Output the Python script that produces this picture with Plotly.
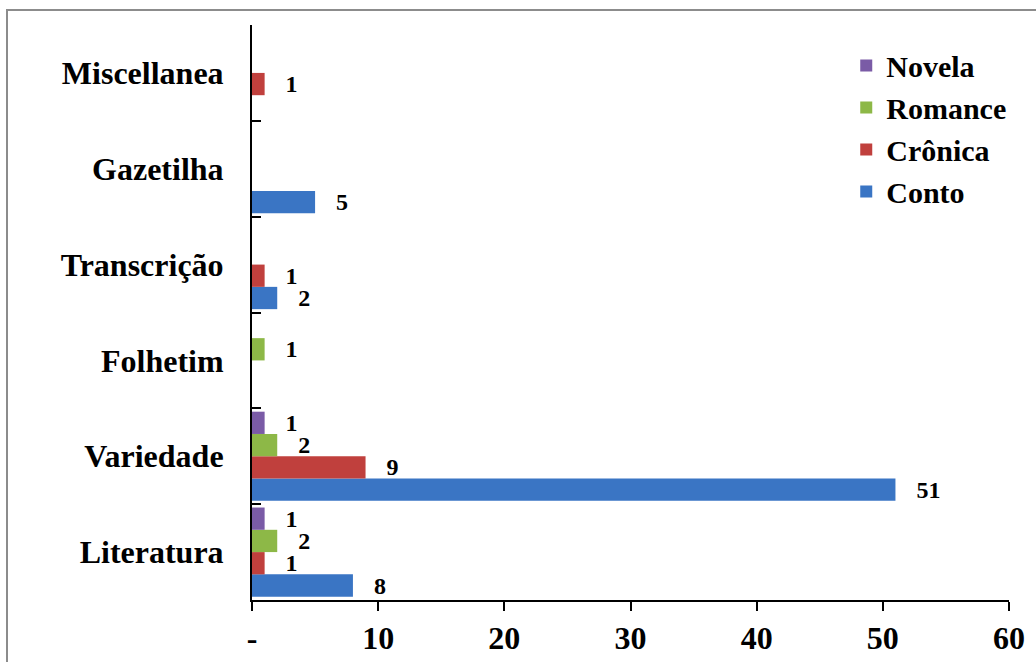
import plotly.graph_objects as go

categories = ["Literatura", "Variedade", "Folhetim", "Transcrição", "Gazetilha", "Miscellanea"]
conto = [8, 51, None, 2, 5, None]
cronica = [1, 9, None, 1, None, 1]
romance = [2, 2, 1, None, None, None]
novela = [1, 1, None, None, None, None]

series = [
    ("Conto", conto, "#3A75C4"),
    ("Crônica", cronica, "#C0403D"),
    ("Romance", romance, "#8DB847"),
    ("Novela", novela, "#7A5BA6"),
]

FONT = "Liberation Serif"

fig = go.Figure()
for i, (name, vals, col) in enumerate(series):
    fig.add_trace(go.Bar(
        y=categories, x=vals, name=name, orientation="h",
        marker=dict(color=col, line=dict(width=0)),
        texttemplate="\u00a0\u00a0\u00a0%{x}",
        textposition="outside",
        constraintext="none",
        cliponaxis=False,
        textfont=dict(family=FONT, size=24, color="black", weight="bold"),
        legendgroup=name,
    ))

fig.update_layout(
    width=1036, height=662,
    margin=dict(l=252, r=27, t=25, b=62, autoexpand=False),
    paper_bgcolor="white", plot_bgcolor="white",
    barmode="group", bargap=0.07, bargroupgap=0,
    font=dict(family=FONT, color="black"),
    showlegend=True,
    legend=dict(
        x=0.785, y=0.975, xanchor="left", yanchor="top",
        traceorder="reversed", tracegroupgap=5,
        font=dict(family=FONT, size=30, color="black", weight="bold"),
        bgcolor="rgba(0,0,0,0)", itemwidth=30,
    ),
    xaxis=dict(
        range=[0, 60], tickvals=[0, 10, 20, 30, 40, 50, 60],
        ticktext=["-", "10", "20", "30", "40", "50", "60"],
        showgrid=False, zeroline=False, automargin=False,
        showline=True, linecolor="black", linewidth=2,
        ticks="outside", ticklen=9, tickwidth=2, tickcolor="black",
        tickfont=dict(family=FONT, size=32, color="black", weight="bold"),
        ticklabelstandoff=0,
    ),
    yaxis=dict(
        categoryorder="array", categoryarray=categories,
        showgrid=False, zeroline=False, automargin=False,
        showline=True, linecolor="black", linewidth=2,
        ticks="inside", tickson="boundaries", ticklen=9, tickwidth=2, tickcolor="black",
        tickfont=dict(family=FONT, size=32, color="black", weight="bold"),
        ticklabelstandoff=20,
    ),
    shapes=[dict(
        type="rect", xref="paper", yref="paper",
        x0=(7 - 252) / 757, x1=1.2, y0=-0.3, y1=(600 - 10) / 575,
        line=dict(color="#8c8c8c", width=2), fillcolor="rgba(0,0,0,0)", layer="below",
    )],
)

fig.write_html("out.html")
